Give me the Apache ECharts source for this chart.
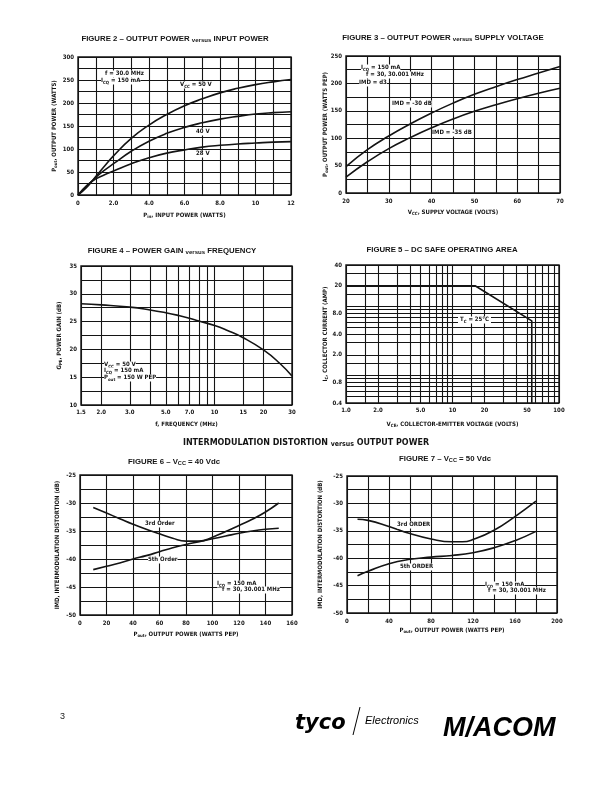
<!DOCTYPE html>
<html><head><meta charset="utf-8">
<script src="https://cdn.jsdelivr.net/npm/echarts@6/dist/echarts.min.js"></script>
<style>html,body{margin:0;padding:0;background:#fff}#c{width:612px;height:792px}</style>
</head><body><div id="c"></div>
<script>
// ===== Figure 2: output power vs input power =====
const fig2Pin = [0, 0.5, 1, 1.5, 2, 3, 4, 5, 6, 7, 8, 9, 10, 11, 12];
const fig2Vcc50 = [0, 17, 40, 63, 85, 123, 152, 175, 194, 209, 222, 232, 240, 246, 251];
const fig2Vcc40 = [0, 19, 38, 54, 68, 95, 117, 134, 147, 157, 165, 171, 176, 179, 181];
const fig2Vcc28 = [0, 21, 35, 44, 52, 68, 81, 91, 98, 104, 108, 111, 113, 115, 116];
const fig2XTicks = [0, 2, 4, 6, 8, 10, 12];
const fig2XLabels = ['0', '2.0', '4.0', '6.0', '8.0', '10', '12'];
const fig2YTicks = [0, 50, 100, 150, 200, 250, 300];
const fig2YLabels = ['0', '50', '100', '150', '200', '250', '300'];

// ===== Figure 3: output power vs supply voltage =====
const fig3Vcc = [20, 25, 30, 35, 40, 45, 50, 55, 60, 65, 70];
const fig3Imd30 = [48, 79, 104, 126, 146, 164, 180, 194, 207, 219, 231];
const fig3Imd35 = [29, 57, 81, 101, 119, 135, 149, 161, 172, 182, 191];
const fig3XTicks = [20, 30, 40, 50, 60, 70];
const fig3XLabels = ['20', '30', '40', '50', '60', '70'];
const fig3YTicks = [0, 50, 100, 150, 200, 250];
const fig3YLabels = ['0', '50', '100', '150', '200', '250'];

// ===== Figure 4: power gain vs frequency =====
const fig4Freq = [1.5, 2, 3, 4, 5, 6, 7, 8, 10, 12, 15, 20, 25, 30];
const fig4Gain = [28.2, 28.0, 27.6, 27.1, 26.6, 26.1, 25.6, 25.1, 24.3, 23.4, 22.1, 19.9, 17.6, 15.2];
const fig4XGrid = [1.5, 2, 3, 4, 5, 6, 7, 8, 9, 10, 15, 20, 30];
const fig4XTicks = [1.5, 2, 3, 5, 7, 10, 15, 20, 30];
const fig4XLabels = ['1.5', '2.0', '3.0', '5.0', '7.0', '10', '15', '20', '30'];
const fig4YTicks = [10, 15, 20, 25, 30, 35];
const fig4YLabels = ['10', '15', '20', '25', '30', '35'];

// ===== Figure 5: DC safe operating area =====
const fig5Vce = [1, 16.3, 55.5, 55.5];
const fig5Ic = [20, 20, 6.2, 0.4];
const fig5XGrid = [1, 1.5, 2, 3, 4, 5, 6, 7, 8, 9, 10, 15, 20, 30, 40, 50, 60, 70, 80, 90, 100];
const fig5XTicks = [1, 2, 5, 10, 20, 50, 100];
const fig5XLabels = ['1.0', '2.0', '5.0', '10', '20', '50', '100'];
const fig5YGrid = [0.4, 0.5, 0.6, 0.7, 0.8, 0.9, 1, 1.5, 2, 3, 4, 5, 6, 7, 8, 9, 10, 15, 20, 30, 40];
const fig5YTicks = [0.4, 0.8, 2, 4, 8, 20, 40];
const fig5YLabels = ['0.4', '0.8', '2.0', '4.0', '8.0', '20', '40'];

// ===== Figure 6: IMD vs output power, Vcc = 40 V =====
const fig6Pout = [10, 20, 30, 40, 50, 60, 70, 80, 90, 100, 110, 120, 130, 140, 150];
const fig6Third = [-30.8, -31.8, -32.8, -33.8, -34.7, -35.5, -36.3, -36.8, -36.8, -36.1, -35.1, -34.0, -32.9, -31.6, -30.0];
const fig6Fifth = [-41.9, -41.3, -40.7, -40.0, -39.4, -38.7, -38.0, -37.4, -36.9, -36.4, -35.9, -35.4, -35.0, -34.7, -34.5];
const fig6XTicks = [0, 20, 40, 60, 80, 100, 120, 140, 160];
const fig6XLabels = ['0', '20', '40', '60', '80', '100', '120', '140', '160'];
const imdYTicks = [-50, -45, -40, -35, -30, -25];
const imdYLabels = ['-50', '-45', '-40', '-35', '-30', '-25'];

// ===== Figure 7: IMD vs output power, Vcc = 50 V =====
const fig7PoutThird = [10, 20, 40, 60, 80, 100, 110, 120, 140, 160, 180];
const fig7Third = [-32.9, -33.1, -34.2, -35.5, -36.5, -37.0, -37.0, -36.6, -34.9, -32.4, -29.6];
const fig7PoutFifth = [10, 20, 40, 60, 80, 100, 120, 140, 160, 180];
const fig7Fifth = [-43.2, -42.4, -41.0, -40.2, -39.8, -39.5, -39.0, -38.1, -36.8, -35.1];
const fig7XTicks = [0, 40, 80, 120, 160, 200];
const fig7XLabels = ['0', '40', '80', '120', '160', '200'];

// ---------------------------------------------------------------
const FONT = "'Liberation Sans Narrow','DejaVu Sans Condensed','Liberation Sans',Arial,sans-serif";
const TFONT = "'Liberation Sans',Arial,sans-serif";
const INK = '#141414';
const pairs = (xs, ys) => xs.map((x, i) => [x, ys[i]]);

function rich(size, fam) {
  const f = fam || FONT;
  const ss = +(size * 0.72).toFixed(2);
  return {
    n: {fontSize: size, fontWeight: 'bold', fontFamily: f, lineHeight: size + 1, verticalAlign: 'top', color: INK, fill: INK},
    s: {fontSize: ss, fontWeight: 'bold', fontFamily: f, lineHeight: ss, padding: [0.5 + 0.49 * size, 0, 0, 0], verticalAlign: 'bottom', color: INK, fill: INK},
    v: {fontSize: size * 0.78, fontWeight: 'bold', fontFamily: f, lineHeight: size * 0.78, padding: [size * 0.3, 0, 0, 0], verticalAlign: 'bottom', color: INK, fill: INK}
  };
}
const R6 = rich(6);

function labelFmt(ticks, labels) {
  return v => { const i = ticks.findIndex(t => Math.abs(t - v) < 1e-7); return i >= 0 ? labels[i] : ''; };
}
function linAxis(dim, gi, min, max, step, ticks, labels, name, gap) {
  return {
    type: 'value', gridIndex: gi, min, max, interval: step,
    name, nameLocation: 'middle', nameGap: gap, nameMoveOverlap: false,
    nameTextStyle: {rich: R6, fontSize: 6, fontWeight: 'bold', fontFamily: FONT, color: INK},
    axisLine: {show: false}, axisTick: {show: false},
    splitLine: {show: true, lineStyle: {color: INK, width: 1.1, type: 'solid'}},
    axisLabel: {show: true, interval: 0, hideOverlap: false, showMinLabel: true, showMaxLabel: true,
      fontSize: 6, fontWeight: 'bold', fontFamily: FONT, color: INK, margin: dim === 'x' ? 5 : 4,
      formatter: labelFmt(ticks, labels)}
  };
}
function logAxis(gi, min, max, name, gap) {
  return {
    type: 'log', logBase: 10, gridIndex: gi, min, max,
    name, nameLocation: 'middle', nameGap: gap, nameMoveOverlap: false,
    nameTextStyle: {rich: R6, fontSize: 6, fontWeight: 'bold', fontFamily: FONT, color: INK},
    axisLine: {show: false}, axisTick: {show: false}, axisLabel: {show: false}, splitLine: {show: false}
  };
}
function gridLines(key, vals, ticks, labels) {
  return vals.map(v => {
    const i = ticks.findIndex(t => Math.abs(t - v) < 1e-9);
    const item = {}; item[key] = v;
    item.label = i >= 0 ? {show: true, formatter: labels[i]} : {show: false};
    return item;
  });
}
function markGrid(items) {
  return {
    silent: true, symbol: ['none', 'none'], animation: false, precision: 3,
    lineStyle: {color: INK, width: 1.1, type: 'solid'},
    emphasis: {disabled: true},
    label: {show: true, position: 'start', distance: 4, fontSize: 6, fontWeight: 'bold', fontFamily: FONT, color: INK},
    data: items
  };
}
function curve(gi, data, extra) {
  return Object.assign({
    type: 'line', xAxisIndex: gi, yAxisIndex: gi, data, symbol: 'none', smooth: 0.5,
    silent: true, lineStyle: {color: INK, width: 1.6}, z: 3
  }, extra || {});
}
function grid(left, top, width, height) {
  return {left, top, width, height, show: true, borderColor: INK, borderWidth: 1.4,
    backgroundColor: 'transparent', containLabel: false, outerBoundsMode: 'none'};
}
function T(text, x, y, extra) {
  return {type: 'text', x, y, z: 100, silent: true,
    style: Object.assign({text, fill: INK, fontSize: 6, fontWeight: 'bold', fontFamily: FONT,
      align: 'left', verticalAlign: 'middle', rich: R6}, extra || {})};
}
const sub = (a, s, b) => `{n|${a}}{s|${s}}{n|${b}}`;
function title(text, x, y, size, fam) {
  return T(text, x, y, {align: 'center', fontSize: size, fontFamily: fam || TFONT, rich: rich(size, fam || TFONT)});
}

const option = {
  animation: false,
  backgroundColor: '#fff',
  textStyle: {fontFamily: FONT},
  grid: [
    grid(78, 57, 213, 138),
    grid(346, 56, 214, 137),
    grid(81, 266, 211, 139),
    grid(346, 265, 213, 138),
    grid(80, 475, 212, 140),
    grid(347, 476, 210, 137)
  ],
  xAxis: [
    linAxis('x', 0, 0, 12, 1, fig2XTicks, fig2XLabels, sub('P', 'in', ', INPUT POWER (WATTS)'), 17),
    linAxis('x', 1, 20, 70, 5, fig3XTicks, fig3XLabels, sub('V', 'CC', ', SUPPLY VOLTAGE (VOLTS)'), 16),
    logAxis(2, 1.5, 30, '{n|f, FREQUENCY (MHz)}', 16),
    logAxis(3, 1, 100, sub('V', 'CE', ', COLLECTOR-EMITTER VOLTAGE (VOLTS)'), 18),
    linAxis('x', 4, 0, 160, 20, fig6XTicks, fig6XLabels, sub('P', 'out', ', OUTPUT POWER (WATTS PEP)'), 16),
    linAxis('x', 5, 0, 200, 20, fig7XTicks, fig7XLabels, sub('P', 'out', ', OUTPUT POWER (WATTS PEP)'), 14)
  ],
  yAxis: [
    linAxis('y', 0, 0, 300, 25, fig2YTicks, fig2YLabels, sub('P', 'out', ', OUTPUT POWER (WATTS)'), 20),
    linAxis('y', 1, 0, 250, 25, fig3YTicks, fig3YLabels, sub('P', 'out', ', OUTPUT POWER (WATTS PEP)'), 17),
    linAxis('y', 2, 10, 35, 2.5, fig4YTicks, fig4YLabels, sub('G', 'PE', ', POWER GAIN (dB)'), 18),
    logAxis(3, 0.4, 40, sub('I', 'C', ', COLLECTOR CURRENT (AMP)'), 17),
    linAxis('y', 4, -50, -25, 2.5, imdYTicks, imdYLabels, '{n|IMD, INTERMODULATION DISTORTION (dB)}', 19),
    linAxis('y', 5, -50, -25, 2.5, imdYTicks, imdYLabels, '{n|IMD, INTERMODULATION DISTORTION (dB)}', 23)
  ],
  series: [
    curve(0, pairs(fig2Pin, fig2Vcc50)),
    curve(0, pairs(fig2Pin, fig2Vcc40)),
    curve(0, pairs(fig2Pin, fig2Vcc28)),
    curve(1, pairs(fig3Vcc, fig3Imd30)),
    curve(1, pairs(fig3Vcc, fig3Imd35)),
    curve(2, pairs(fig4Freq, fig4Gain), {markLine: markGrid(gridLines('xAxis', fig4XGrid, fig4XTicks, fig4XLabels))}),
    curve(3, pairs(fig5Vce, fig5Ic), {smooth: false, markLine: markGrid(
      gridLines('xAxis', fig5XGrid, fig5XTicks, fig5XLabels).concat(gridLines('yAxis', fig5YGrid, fig5YTicks, fig5YLabels)))}),
    curve(4, pairs(fig6Pout, fig6Third)),
    curve(4, pairs(fig6Pout, fig6Fifth)),
    curve(5, pairs(fig7PoutThird, fig7Third)),
    curve(5, pairs(fig7PoutFifth, fig7Fifth))
  ],
  graphic: [
    // titles
    title('FIGURE 2 \u2013 OUTPUT POWER {v|versus} INPUT POWER', 175, 39, 7.8),
    title('FIGURE 3 \u2013 OUTPUT POWER {v|versus} SUPPLY VOLTAGE', 443, 38, 7.8),
    title('FIGURE 4 \u2013 POWER GAIN {v|versus} FREQUENCY', 172, 251, 7.8),
    title('FIGURE 5 \u2013 DC SAFE OPERATING AREA', 442, 250, 7.8),
    title('INTERMODULATION DISTORTION {v|versus} OUTPUT POWER', 306, 443, 8.9, FONT),
    title('{n|FIGURE 6 \u2013 V}{s|CC}{n| = 40 Vdc}', 174, 462, 7.8),
    title('{n|FIGURE 7 \u2013 V}{s|CC}{n| = 50 Vdc}', 445, 459, 7.8),
    // figure 2 notes
    T('{n|f = 30.0 MHz}', 105, 74, {backgroundColor: '#fff'}),
    T(sub('I', 'CQ', ' = 150 mA'), 101, 81, {backgroundColor: '#fff'}),
    T(sub('V', 'CC', ' = 50 V'), 180, 85, {backgroundColor: '#fff'}),
    T('{n|40 V}', 196, 132, {backgroundColor: '#fff'}),
    T('{n|28 V}', 196, 154, {backgroundColor: '#fff'}),
    // figure 3 notes
    T(sub('I', 'CQ', ' = 150 mA'), 361, 68, {backgroundColor: '#fff'}),
    T('{n|f = 30, 30.001 MHz}', 366, 75, {backgroundColor: '#fff'}),
    T('{n|IMD = d3}', 359, 83, {backgroundColor: '#fff'}),
    T('{n|IMD = -30 dB}', 392, 104, {backgroundColor: '#fff'}),
    T('{n|IMD = -35 dB}', 432, 133, {backgroundColor: '#fff'}),
    // figure 4 notes
    T(sub('V', 'CC', ' = 50 V'), 104, 365, {backgroundColor: '#fff'}),
    T(sub('I', 'CQ', ' = 150 mA'), 104, 371, {backgroundColor: '#fff'}),
    T(sub('P', 'out', ' = 150 W PEP'), 104, 378, {backgroundColor: '#fff'}),
    // figure 5 note
    T(sub('T', 'C', ' = 25\u00B0C'), 458, 320, {backgroundColor: '#fff', padding: [0, 2]}),
    // figure 6 notes
    T('{n|3rd Order}', 145, 524, {backgroundColor: '#fff'}),
    T('{n|5th Order}', 148, 560, {backgroundColor: '#fff'}),
    T(sub('I', 'CQ', ' = 150 mA'), 217, 584, {backgroundColor: '#fff'}),
    T('{n|f = 30, 30.001 MHz}', 222, 590, {backgroundColor: '#fff'}),
    // figure 7 notes
    T('{n|3rd ORDER}', 397, 525, {backgroundColor: '#fff'}),
    T('{n|5th ORDER}', 400, 567, {backgroundColor: '#fff'}),
    T(sub('I', 'CQ', ' = 150 mA'), 485, 585, {backgroundColor: '#fff'}),
    T('{n|f = 30, 30.001 MHz}', 488, 591, {backgroundColor: '#fff'}),
    // footer
    {type: 'text', x: 60, y: 717, z: 100, silent: true,
      style: {text: '3', fill: '#222', fontSize: 9, fontFamily: "'Liberation Sans',Arial,sans-serif", align: 'left', verticalAlign: 'middle'}},
    {type: 'text', x: 295, y: 724, z: 100, silent: true,
      style: {text: 'tyco', fill: '#000', fontSize: 21, fontWeight: 'bold', fontStyle: 'italic', fontFamily: "'DejaVu Sans',sans-serif", align: 'left', verticalAlign: 'middle'}},
    {type: 'line', z: 100, silent: true, shape: {x1: 353, y1: 735, x2: 360, y2: 707}, style: {stroke: '#000', lineWidth: 1}},
    {type: 'text', x: 365, y: 721, z: 100, silent: true,
      style: {text: 'Electronics', fill: '#000', fontSize: 11, fontStyle: 'italic', fontFamily: "'Liberation Sans',Arial,sans-serif", align: 'left', verticalAlign: 'middle'}},
    {type: 'text', x: 443, y: 729, z: 100, silent: true,
      style: {text: 'M/ACOM', fill: '#000', fontSize: 27, fontWeight: 'bold', fontStyle: 'italic', fontFamily: "'Liberation Sans',Arial,sans-serif", align: 'left', verticalAlign: 'middle'}}
  ]
};
const chart = echarts.init(document.getElementById('c'), null, {renderer: 'canvas', width: 612, height: 792});
chart.setOption(option);
</script>
</body></html>
